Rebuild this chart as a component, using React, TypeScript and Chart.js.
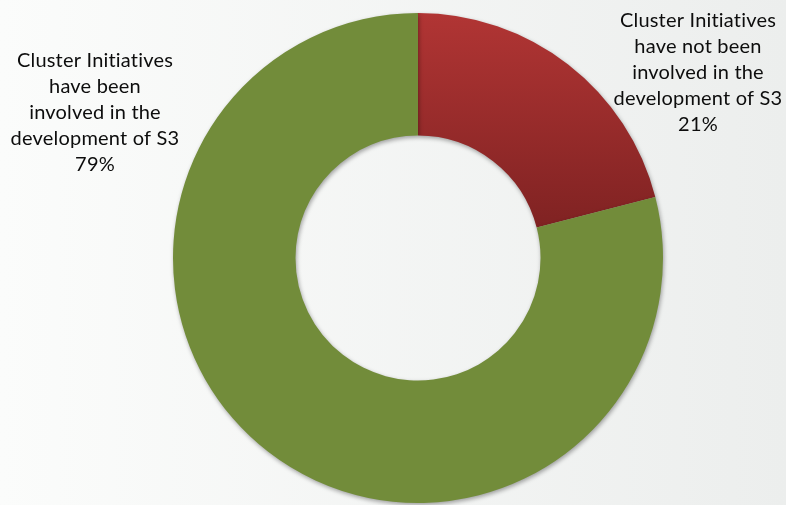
import React, { useEffect, useRef } from "react";
import { Chart, registerables } from "chart.js";

Chart.register(...registerables);

const categories = [
  "Cluster Initiatives have not been involved in the development of S3",
  "Cluster Initiatives have been involved in the development of S3",
];
const values = [21, 79];
const labelLinesNot = ["Cluster Initiatives", "have not been", "involved in the", "development of S3"];
const labelLinesBeen = ["Cluster Initiatives", "have been", "involved in the", "development of S3"];
const percentLabels = ["21%", "79%"];

const W = 786;
const H = 505;

export default function App() {
  const ref = useRef<HTMLCanvasElement | null>(null);

  useEffect(() => {
    const canvas = ref.current;
    if (!canvas) return;

    const bgPlugin = {
      id: "bg",
      beforeDraw(chart: any) {
        const ctx = chart.ctx;
        const g = ctx.createLinearGradient(0, 0, W, 0);
        g.addColorStop(0, "#fbfcfb");
        g.addColorStop(1, "#eceeed");
        ctx.save();
        ctx.fillStyle = g;
        ctx.fillRect(0, 0, W, H);
        ctx.restore();
      },
      beforeDatasetsDraw(chart: any) {
        const ctx = chart.ctx;
        ctx.save();
        ctx.shadowColor = "rgba(0,0,0,0.35)";
        ctx.shadowBlur = 4;
        ctx.shadowOffsetX = 1;
        ctx.shadowOffsetY = 2;
      },
      afterDatasetsDraw(chart: any) {
        chart.ctx.restore();
      },
      afterDraw(chart: any) {
        const ctx = chart.ctx;
        ctx.save();
        ctx.fillStyle = "#0d0d0d";
        ctx.font = "20px Lato, 'Open Sans', sans-serif";
        try {
          (ctx as any).letterSpacing = "0.2px";
        } catch (e) {}
        ctx.textAlign = "center";
        ctx.textBaseline = "middle";
        const right = [...labelLinesNot, percentLabels[0]];
        right.forEach((t, i) => ctx.fillText(t, 698, 21 + i * 26));
        const left = [...labelLinesBeen, percentLabels[1]];
        left.forEach((t, i) => ctx.fillText(t, 95, 61 + i * 26));
        ctx.restore();
      },
    };

    const chart = new Chart(canvas, {
      type: "doughnut",
      data: {
        labels: categories,
        datasets: [
          {
            data: values,
            backgroundColor: (c: any) => {
              if (c.dataIndex === 0) {
                const ctx = c.chart.ctx;
                const g = ctx.createLinearGradient(0, 13, 0, 230);
                g.addColorStop(0, "#b13534");
                g.addColorStop(1, "#7f2222");
                return g;
              }
              return "#728c3a";
            },
            borderWidth: 0,
          },
        ],
      },
      options: {
        responsive: false,
        animation: false,
        cutout: "50%",
        layout: { padding: { top: 13, bottom: 2, left: 173, right: 123 } },
        plugins: {
          legend: { display: false },
          tooltip: { enabled: false },
        },
      },
      plugins: [bgPlugin],
    });
    return () => chart.destroy();
  }, []);

  return (
    <div style={{ position: "absolute", left: 0, top: 0, width: W, height: H }}>
      <canvas ref={ref} width={W} height={H} style={{ display: "block" }} />
    </div>
  );
}
